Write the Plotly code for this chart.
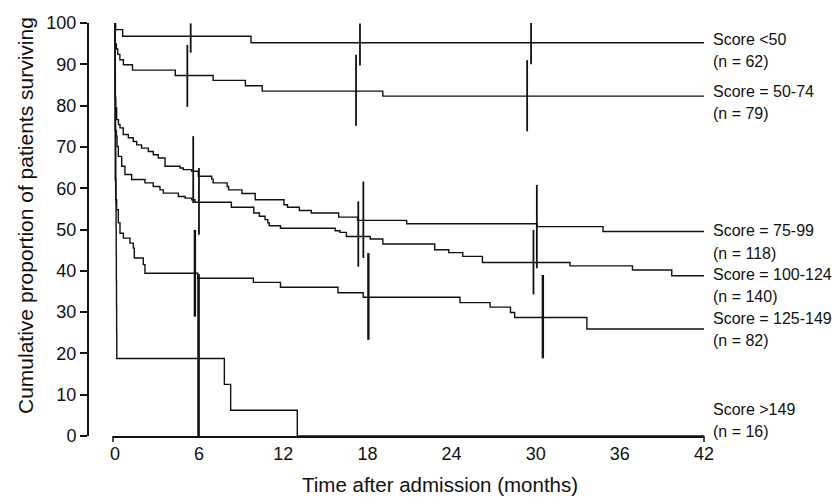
import plotly.graph_objects as go

# ---------------- data ----------------
group_names = ["Score <50", "Score = 50-74", "Score = 75-99",
               "Score = 100-124", "Score = 125-149", "Score >149"]
group_n = [62, 79, 118, 140, 82, 16]

x_tick_vals = [0, 6, 12, 18, 24, 30, 36, 42]
y_tick_vals = [0, 10, 20, 30, 40, 50, 60, 70, 80, 90, 100]

# survival curves (months, % surviving)
t_lt50 = [0, 0.05, 0.55, 9.7, 42]
s_lt50 = [100, 98.4, 96.8, 95.2, 95.2]

t_50_74 = [0, 0.02, 0.1, 0.2, 0.35, 0.6, 1.25, 4.3, 7.0, 9.3, 10.5, 19.1, 42]
s_50_74 = [100, 94.9, 93.7, 92.4, 91.1, 89.9, 88.6, 87.3, 86.1, 84.8, 83.5, 82.3, 82.3]

t_75_99 = [0, 0.02, 0.05, 0.12, 0.25, 0.36, 0.59, 0.95, 1.3, 1.55, 1.9, 2.38, 2.73,
           3.09, 3.57, 4.64, 4.87, 5.47, 5.94, 6.9, 7.0, 8.0, 8.1, 9.05, 10.0, 12.05,
           12.3, 13.15, 14.0, 15.95, 17.3, 20.8, 30.1, 34.8, 42]
s_75_99 = [100, 82.0, 79.5, 76.6, 75.4, 74.6, 73.0, 72.2, 71.3, 70.5, 69.7, 68.9, 68.1,
           67.3, 65.3, 64.9, 64.5, 64.1, 62.9, 62.2, 61.3, 60.4, 59.6, 58.7, 57.2, 56.0,
           55.4, 54.6, 54.0, 53.0, 52.2, 51.4, 50.7, 49.5, 49.5]

t_100_124 = [0, 0.02, 0.1, 0.15, 0.24, 0.48, 0.71, 1.19, 2.14, 2.73, 3.21, 3.45, 4.52,
             5.0, 5.47, 5.7, 8.3, 9.9, 10.3, 10.7, 10.9, 11.0, 11.8, 15.7, 16.05, 16.5,
             18.2, 19.1, 22.8, 23.8, 24.8, 26.2, 32.45, 36.9, 39.7, 42]
s_100_124 = [100, 74.0, 72.6, 70.1, 67.7, 65.3, 63.3, 62.1, 61.3, 60.4, 59.6, 58.8, 58.0,
             57.6, 57.2, 56.6, 55.4, 54.0, 53.2, 52.4, 51.6, 50.9, 50.3, 49.7, 49.3, 48.3,
             47.7, 46.5, 45.1, 44.4, 43.5, 42.0, 41.2, 40.2, 38.8, 38.8]

t_125_149 = [0, 0.02, 0.05, 0.12, 0.24, 0.36, 0.6, 1.07, 1.31, 1.38, 2.02, 2.14, 5.9,
             9.87, 11.8, 15.9, 17.7, 24.6, 26.75, 28.2, 28.5, 33.65, 42]
s_125_149 = [100, 62.0, 57.2, 54.8, 51.6, 49.1, 47.9, 46.7, 45.5, 43.1, 41.5, 39.4, 38.2,
             37.2, 36.0, 34.7, 33.6, 32.3, 31.2, 29.9, 28.7, 25.9, 25.9]

t_gt149 = [0, 0.01, 0.02, 0.03, 0.04, 0.05, 0.06, 0.07, 0.08, 0.09, 0.1, 0.11, 0.12,
           0.13, 7.8, 8.25, 13.0, 42]
s_gt149 = [100, 93.75, 87.5, 81.25, 75, 68.75, 62.5, 56.25, 50, 43.75, 37.5, 31.25, 25,
           18.75, 12.5, 6.25, 0, 0]

# confidence-interval bars at 6, 18 and 30 months
ci_t_lt50 = [5.40, 17.47, 29.67]
ci_lo_lt50 = [92.8, 89.7, 90.0]
ci_hi_lt50 = [99.9, 99.9, 100.0]

ci_t_50_74 = [5.16, 17.19, 29.39]
ci_lo_50_74 = [79.7, 75.1, 73.8]
ci_hi_50_74 = [94.7, 92.3, 91.0]

ci_t_75_99 = [5.58, 17.71, 30.08]
ci_lo_75_99 = [56.4, 43.1, 40.6]
ci_hi_75_99 = [72.6, 61.6, 60.8]

ci_t_100_124 = [5.99, 17.35, 29.84]
ci_lo_100_124 = [48.7, 41.0, 34.3]
ci_hi_100_124 = [64.9, 56.8, 49.9]

ci_t_125_149 = [5.70, 18.07, 30.51]
ci_lo_125_149 = [28.9, 23.3, 18.8]
ci_hi_125_149 = [49.9, 44.3, 39.0]

ci_t_gt149 = [5.96]
ci_lo_gt149 = [0.0]
ci_hi_gt149 = [39.2]

curves = [(t_lt50, s_lt50), (t_50_74, s_50_74), (t_75_99, s_75_99),
          (t_100_124, s_100_124), (t_125_149, s_125_149), (t_gt149, s_gt149)]
cis = [(ci_t_lt50, ci_lo_lt50, ci_hi_lt50), (ci_t_50_74, ci_lo_50_74, ci_hi_50_74),
       (ci_t_75_99, ci_lo_75_99, ci_hi_75_99), (ci_t_100_124, ci_lo_100_124, ci_hi_100_124),
       (ci_t_125_149, ci_lo_125_149, ci_hi_125_149), (ci_t_gt149, ci_lo_gt149, ci_hi_gt149)]

# ---------------- layout constants ----------------
FONT = "Liberation Sans, Arial, Helvetica, sans-serif"
INK = "#111111"
W, H = 840, 497
ML, MR, MT, MB = 88, 136, 23, 61
PW, PH = W - ML - MR, H - MT - MB
x_dom0 = (113 - ML) / PW
label_px_y = [40, 92, 231, 274, 318, 409]   # pixel centre of the "Score" line
label_gap = 22
ci_widths = [1.8, 1.8, 1.8, 1.8, 2.4, 2.6]


def py2paper(py):
    return (H - MB - py) / PH


fig = go.Figure()

for (t, s) in curves:
    fig.add_trace(go.Scatter(x=t, y=s, mode="lines", line=dict(color=INK, width=1.4, shape="hv"),
                             hoverinfo="skip", showlegend=False))

for (ct, lo, hi), wd in zip(cis, ci_widths):
    xs, ys = [], []
    for a, b, c in zip(ct, lo, hi):
        xs += [a, a, None]
        ys += [b, c, None]
    fig.add_trace(go.Scatter(x=xs, y=ys, mode="lines", line=dict(color=INK, width=wd),
                             hoverinfo="skip", showlegend=False))

ann = []
for name, n, py in zip(group_names, group_n, label_px_y):
    ann.append(dict(text=name, x=(711 - ML) / PW, y=py2paper(py), xref="paper", yref="paper",
                    xanchor="left", yanchor="middle", showarrow=False,
                    font=dict(family=FONT, size=16, color=INK)))
    ann.append(dict(text=f"(n = {n})", x=(711 - ML) / PW, y=py2paper(py + label_gap),
                    xref="paper", yref="paper", xanchor="left", yanchor="middle",
                    showarrow=False, font=dict(family=FONT, size=16, color=INK)))

ann.append(dict(text="Cumulative proportion of patients surviving", textangle=-90,
                x=(25 - ML) / PW, y=py2paper(216), xref="paper", yref="paper",
                xanchor="center", yanchor="middle", showarrow=False,
                font=dict(family=FONT, size=21, color=INK)))
ann.append(dict(text="Time after admission (months)",
                x=(440 - ML) / PW, y=py2paper(485), xref="paper", yref="paper",
                xanchor="center", yanchor="middle", showarrow=False,
                font=dict(family=FONT, size=20.5, color=INK)))

shapes = [
    dict(type="line", xref="paper", yref="paper", x0=x_dom0, x1=x_dom0, y0=0, y1=-6 / PH,
         line=dict(color=INK, width=1.5)),
    dict(type="line", xref="paper", yref="paper", x0=1, x1=1, y0=0, y1=-6 / PH,
         line=dict(color=INK, width=1.5)),
]

fig.update_layout(
    width=W, height=H, margin=dict(l=ML, r=MR, t=MT, b=MB),
    paper_bgcolor="white", plot_bgcolor="white",
    font=dict(family=FONT, color=INK),
    annotations=ann, shapes=shapes,
    xaxis=dict(domain=[x_dom0, 1], range=[-0.14, 42.0], tickvals=x_tick_vals,
               ticktext=[str(v) for v in x_tick_vals], showline=True, linewidth=2,
               linecolor=INK, ticks="", showgrid=False, zeroline=False,
               tickfont=dict(family=FONT, size=18, color=INK)),
    yaxis=dict(anchor="free", position=0, range=[0, 100], tickvals=y_tick_vals,
               ticktext=[str(v) for v in y_tick_vals], showline=True, linewidth=2,
               linecolor=INK, ticks="outside", ticklen=7, tickwidth=1.5, tickcolor=INK,
               showgrid=False, zeroline=False,
               tickfont=dict(family=FONT, size=18, color=INK)),
)

fig.write_html("out.html", config={"displayModeBar": False},
               post_script="document.body.style.margin='0';document.body.style.overflow='hidden';")
